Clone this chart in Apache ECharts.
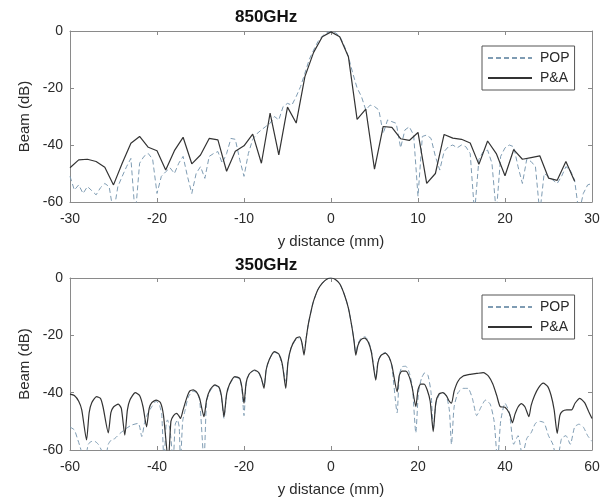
<!DOCTYPE html>
<html>
<head>
<meta charset="utf-8">
<script src="https://cdn.jsdelivr.net/npm/echarts@6/dist/echarts.min.js"></script>
<style>
html,body{margin:0;padding:0;background:#fff;}
#chart{width:610px;height:504px;}
</style>
</head>
<body>
<div id="chart"></div>
<script>
// ---------- DATA ----------
var titles = ['850GHz', '350GHz'];
var seriesNames = ['POP', 'P&A'];
var xTicksTop = [-30, -20, -10, 0, 10, 20, 30];
var xTicksBottom = [-60, -40, -20, 0, 20, 40, 60];
var yTicks = [-60, -40, -20, 0];

// 850 GHz, P&A (solid)
var top_pa_x = [-30,-29,-28,-27,-26,-25,-24,-23,-22,-21,-20,-19,-18,-17,-16,-15,-14,-13,-12,-11,-10,-9,-8,-7,-6,-5,-4,-3,-2,-1,0,1,2,3,4,5,6,7,8,9,10,11,12,13,14,15,16,17,18,19,20,21,22,23,24,25,26,27,28];
var top_pa_y = [-48,-45.2,-45,-45.8,-47.8,-54,-46.4,-39.4,-37,-40.8,-42,-48.8,-42,-37.3,-46.6,-43.5,-37.7,-38.2,-49.2,-42.2,-40.3,-36.2,-46.4,-28.8,-43.5,-26.7,-32.3,-16,-7.5,-2,-0.3,-2,-9,-31,-27.4,-48.5,-33.5,-33.8,-37.8,-38.4,-35.6,-53.5,-50,-36.3,-37.6,-38,-39.3,-46.8,-38.6,-43,-50.8,-41.6,-45,-44.4,-43.8,-51.6,-52.4,-45.8,-52.7];

// 850 GHz, POP (dashed)
var top_pop_x = [-30,-29.5,-29,-28.5,-28,-27.5,-27,-26.5,-26,-25.5,-25,-24.5,-24,-23.5,-23,-22.5,-22,-21.5,-21,-20.5,-20,-19.5,-19,-18.5,-18,-17.5,-17,-16.5,-16,-15.5,-15,-14.5,-14,-13.5,-13,-12.5,-12,-11.5,-11,-10.5,-10,-9.5,-9,-8.5,-8,-7.5,-7,-6.5,-6,-5.5,-5,-4.5,-4,-3.5,-3,-2.5,-2,-1.5,-1,-0.5,0,0.5,1,1.5,2,2.5,3,3.5,4,4.5,5,5.5,6,6.5,7,7.5,8,8.5,9,9.5,10,10.5,11,11.5,12,12.5,13,13.5,14,14.5,15,15.5,16,16.5,17,17.5,18,18.5,19,19.5,20,20.5,21,21.5,22,22.5,23,23.5,24,24.5,25,25.5,26,26.5,27,27.5,28,28.5,29,29.5,30];
var top_pop_y = [-51,-55.8,-54,-57,-54.6,-56,-57.5,-55,-53.5,-54.6,-64,-54.6,-51,-47.6,-44.7,-65,-46.4,-44,-43,-45,-57,-51,-49.4,-48,-50,-46.4,-44,-51,-57,-50,-47.6,-51.7,-44,-43,-42.3,-46.4,-43,-37.7,-38,-45,-51,-43,-38,-36,-34.7,-33.5,-32.4,-30,-31.2,-26.5,-25.4,-26,-23,-19.5,-14.8,-10,-6.7,-3.7,-1.8,-0.6,-0.2,-0.6,-1.8,-5,-9,-14.8,-20,-23,-27.7,-26,-26.5,-27.7,-36,-31.2,-31.8,-32.4,-41,-34.7,-33.6,-36.5,-58,-37,-36.5,-37.7,-44,-48.8,-42.3,-40.6,-40,-41,-40,-40.6,-43,-64,-45,-42.3,-41.8,-46.4,-64,-44,-41,-40,-40.6,-47.6,-53.5,-45,-45.8,-47.6,-64,-50,-51,-52.3,-53.5,-51,-47.6,-48.8,-52.3,-64,-57,-54,-53.5];

// 350 GHz, P&A (solid)
var bot_pa_x = [-60,-59,-58,-57.3,-56.2,-55.6,-55,-53.9,-53,-52.4,-51.2,-50.6,-50,-48.9,-48.2,-47.4,-46.8,-46.2,-45,-44,-43.2,-42.4,-41.8,-41.2,-40.2,-39.2,-38.5,-37.4,-36.8,-36.2,-35.5,-35,-34.6,-34,-33.2,-32.5,-31.7,-30.9,-30.2,-29.2,-28.6,-27.8,-26.7,-25.8,-25.2,-24.6,-24,-23.3,-22.1,-21,-20.5,-20,-19.5,-18.8,-17.6,-16.6,-16,-15.4,-14.9,-14.2,-13,-12,-11.2,-10.4,-9.9,-9.2,-8,-7.2,-6.7,-6.2,-5.7,-5.2,-4.5,-4,-3,-2,-1,0,1,2,3,4,4.8,5.3,5.7,6.2,6.9,7.8,8.6,9.3,10.3,10.8,11.5,12.5,13.3,14,15.2,15.7,16.3,17.2,18,18.7,19.5,20,20.6,21.4,22.1,22.8,23.5,24.1,24.8,25.7,26.5,27.2,27.7,28.3,29.2,30.4,32,33.5,35,36.2,37.2,38.1,38.9,40,41,41.7,42.3,43,43.8,44.6,45.5,46,46.8,47.7,48.8,49.8,50.6,51.3,52,52.6,53.2,54.2,55.3,56.1,57.2,58.3,59.2,60];
var bot_pa_y = [-40.5,-41,-43,-46,-56.5,-47,-43.5,-41.4,-42,-45,-54,-47,-45,-44,-45.5,-54.8,-46,-42.5,-40,-41,-45,-51.9,-45.5,-43.5,-42.6,-43.5,-48,-64,-50,-48,-47.2,-48,-49,-46,-42,-39.5,-39,-39.8,-42,-48.4,-42.5,-39,-37.3,-38,-41,-48.4,-40.5,-37,-34.4,-35,-38,-43.7,-36.5,-33.5,-32.1,-33,-35,-38.5,-32,-28.5,-25.7,-26.5,-30,-38.5,-29.5,-24.5,-21,-20.5,-22.5,-26.9,-21,-16,-11,-8,-4,-1.8,-0.4,0,-0.5,-2,-5.5,-10.5,-17,-22,-26.9,-23.5,-21.5,-21,-22.5,-26,-35.6,-29.5,-27,-26.2,-27.5,-30.5,-39.7,-34,-32.5,-32.5,-34.5,-38.5,-44.9,-39,-37,-37,-39,-43,-53.6,-43.5,-40.5,-40,-41,-43,-43.7,-39.5,-36,-34.2,-33.6,-33.3,-33,-34.2,-37,-41,-44.9,-45.1,-47.2,-50.5,-47.5,-45,-43.8,-45,-48.4,-44.5,-41,-38.3,-36.7,-37.8,-41,-46,-54.2,-48,-46.5,-46,-46,-43.7,-42,-43.5,-46.5,-49];

// 350 GHz, POP (dashed)
var bot_pop_x = [-60,-59,-58.3,-57.7,-56.6,-55.8,-55,-54.3,-53.5,-52.8,-52,-51.2,-50.5,-49.7,-48.5,-47,-45.8,-44.3,-43.5,-42.8,-42.2,-41.2,-40.2,-39.4,-38.9,-38.4,-37.9,-37.6,-37,-36.3,-35.8,-35.3,-34.9,-34.6,-34.1,-33.6,-32.8,-31.7,-30.9,-30.2,-29.2,-28.6,-27.8,-26.7,-25.8,-25.2,-24.6,-24,-23.3,-22.1,-21,-20.5,-20,-19.5,-18.8,-17.6,-16.6,-16,-15.4,-14.9,-14.2,-13,-12,-11.2,-10.4,-9.9,-9.2,-8,-7.2,-6.7,-6.2,-5.7,-5.2,-4.5,-4,-3,-2,-1,0,1,2,3,4,4.8,5.3,5.7,6.2,6.9,7.8,8.6,9.3,10.3,10.8,11.5,12.5,13.3,14,15.2,15.7,16.3,17.2,18,18.7,19.5,20.1,20.8,21.6,22.3,23,23.5,24.1,24.8,25.7,26.5,27.2,27.7,28.3,29.2,30.4,31.5,32.5,33.5,34.5,35.5,36.6,37.5,38.3,39,40,41,42,43,44,45,46,47,48,49,50,51,52,53,54,55,56,57,58,59,60];
var bot_pop_y = [-52,-53,-56,-58.8,-64,-58,-57,-57,-58,-60,-64,-58,-56.5,-56,-54.2,-52.4,-51.3,-50.7,-55.3,-50,-47.5,-44.9,-43,-44.5,-48,-64,-51,-49.5,-53,-64,-51,-49.5,-52,-64,-50,-46.5,-41.5,-39.5,-40,-42.5,-64,-43,-39.5,-37.5,-38.2,-41.5,-49,-41,-37.2,-34.6,-35.2,-38.5,-48,-37,-33.5,-32.3,-33.2,-35.5,-37.5,-32,-28.5,-25.9,-26.7,-30.5,-36,-29.5,-24.5,-21.3,-20.8,-22.5,-26,-21,-16,-11,-8,-4,-1.8,-0.4,0,-0.5,-2,-5.5,-10.5,-17,-22,-26,-23,-21,-20.5,-22,-25.5,-35,-29,-26.8,-26,-27.5,-31,-47,-34,-31,-30.8,-33,-38,-54,-40,-35,-33,-34,-40,-53,-44,-41,-40,-41,-46,-58,-45,-40,-38.5,-38.5,-42,-48,-45,-42.6,-44,-50,-64,-50,-43.7,-47,-58,-55,-62,-56,-54,-50.7,-50,-50.5,-55,-58,-64,-56,-55,-58,-52,-51,-52,-55,-57];

// ---------- CHART ----------
function zip(xs, ys) { return xs.map(function (x, i) { return [x, ys[i]]; }); }

var FONT = "'Liberation Sans', Arial, Helvetica, sans-serif";
var AX = '#8a8a8a';
var TXT = '#2b2b2b';
var POP_C = '#7f9cb3';
var PA_C = '#333333';

var grids = [
  { left: 70, top: 31, width: 522, height: 171 },
  { left: 70, top: 278, width: 522, height: 172 }
];

function xAxes(gi, ticks) {
  var base = {
    type: 'value', gridIndex: gi, min: ticks[0], max: ticks[ticks.length - 1],
    interval: ticks[1] - ticks[0],
    axisLine: { show: true, onZero: false, lineStyle: { color: AX, width: 1 } },
    axisTick: { show: true, inside: true, length: 4, lineStyle: { color: AX } },
    splitLine: { show: false }
  };
  var bottom = Object.assign({}, base, {
    position: 'bottom',
    axisLabel: { fontSize: 14, color: TXT, margin: 10, fontFamily: FONT },
    name: 'y distance (mm)', nameLocation: 'middle', nameGap: 32,
    nameTextStyle: { fontSize: 15, color: TXT, fontFamily: FONT }
  });
  var top = Object.assign({}, base, { position: 'top', axisLabel: { show: false } });
  return [bottom, top];
}
function yAxes(gi) {
  var base = {
    type: 'value', gridIndex: gi, min: yTicks[0], max: yTicks[yTicks.length - 1], interval: 20,
    axisLine: { show: true, onZero: false, lineStyle: { color: AX, width: 1 } },
    axisTick: { show: true, inside: true, length: 4, lineStyle: { color: AX } },
    splitLine: { show: false }
  };
  var left = Object.assign({}, base, {
    position: 'left',
    axisLabel: { fontSize: 14, color: TXT, margin: 7, fontFamily: FONT },
    name: 'Beam (dB)', nameLocation: 'middle', nameGap: 38,
    nameTextStyle: { fontSize: 15, color: TXT, fontFamily: FONT }
  });
  var right = Object.assign({}, base, { position: 'right', axisLabel: { show: false } });
  return [left, right];
}

var xa = xAxes(0, xTicksTop).concat(xAxes(1, xTicksBottom));
var ya = yAxes(0).concat(yAxes(1));

function legend(top) {
  return {
    orient: 'vertical', left: 482, top: top, data: seriesNames,
    itemWidth: 44, itemHeight: 14, itemGap: 6, padding: [5, 5, 5, 5],
    borderColor: '#555', borderWidth: 1, backgroundColor: '#fff',
    selectedMode: false,
    itemStyle: { opacity: 0 },
    textStyle: { fontSize: 14, color: TXT, fontFamily: FONT, padding: [0, 0, 0, 3] }
  };
}

function line(name, gi, data, dashed, smooth) {
  return {
    type: 'line', name: name, xAxisIndex: gi * 2, yAxisIndex: gi * 2,
    data: data, symbol: 'none', showSymbol: false, smooth: smooth ? 0.2 : false,
    clip: true, animation: false,
    lineStyle: dashed ? { color: POP_C, width: 1, type: [5, 3] } : { color: PA_C, width: 1.2 },
    itemStyle: { color: dashed ? POP_C : PA_C },
    z: dashed ? 2 : 3
  };
}

var chart = echarts.init(document.getElementById('chart'), null, { renderer: 'canvas' });
chart.setOption({
  backgroundColor: '#fff',
  animation: false,
  title: [
    { text: titles[0], left: 235, top: 9, padding: 0, textStyle: { fontSize: 17, fontWeight: 'bold', color: '#111', fontFamily: FONT } },
    { text: titles[1], left: 235, top: 257, padding: 0, textStyle: { fontSize: 17, fontWeight: 'bold', color: '#111', fontFamily: FONT } }
  ],
  legend: [legend(46), legend(295)],
  grid: grids,
  xAxis: xa,
  yAxis: ya,
  series: [
    line(seriesNames[0], 0, zip(top_pop_x, top_pop_y), true, false),
    line(seriesNames[1], 0, zip(top_pa_x, top_pa_y), false, false),
    line(seriesNames[0], 1, zip(bot_pop_x, bot_pop_y), true, true),
    line(seriesNames[1], 1, zip(bot_pa_x, bot_pa_y), false, true)
  ]
});
</script>
</body>
</html>
